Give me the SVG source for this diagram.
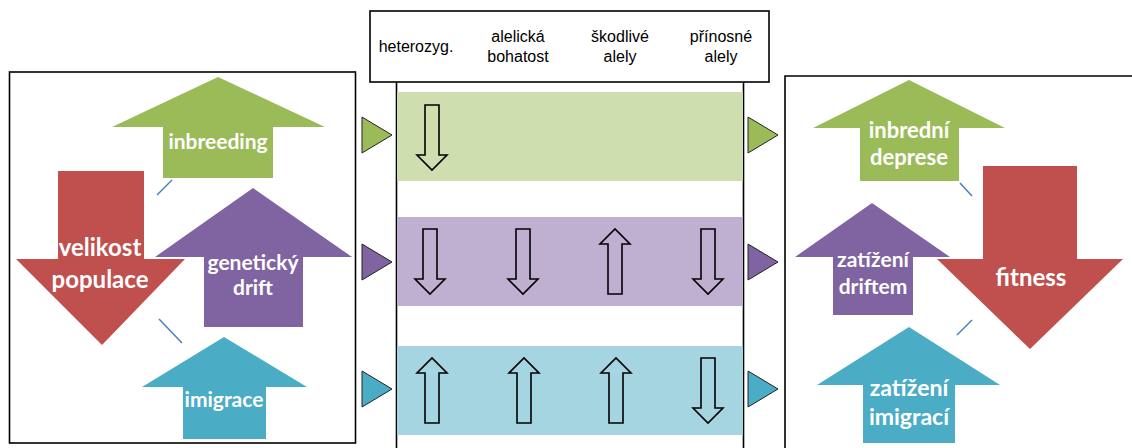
<svg xmlns="http://www.w3.org/2000/svg" width="1132" height="448" viewBox="0 0 1132 448">
<style>
.frame{fill:#fff;stroke:#000;stroke-width:1.6}
.g{fill:#9bbb59}.r{fill:#c0504d}.p{fill:#8064a2}.b{fill:#4bacc6}
.lbl{font-family:Lato,"Liberation Sans",sans-serif;font-weight:bold;font-size:21px;fill:#fff;text-anchor:middle}
.hdr{font-family:"Liberation Sans",Arial,sans-serif;font-size:16px;fill:#000;text-anchor:middle}
.tri{stroke:#222;stroke-width:1}
.oa{fill:none;stroke:#000;stroke-width:1.6;stroke-linejoin:miter}
.link{stroke:#4a7ebb;stroke-width:1.5}
</style>
<defs>
<path id="dn" d="M-7,0 H7 V50 H15 L0,65 L-15,50 H-7 Z"/>
<path id="up" d="M-7,65 H7 V15 H15 L0,0 L-15,15 H-7 Z"/>
<path id="tri" d="M0,0 L30,18 L0,36 Z"/>
</defs>

<g id="left-panel">
<rect class="frame" x="9.5" y="72" width="346" height="371"/>
</g>

<g id="connectors">
<line class="link" x1="157" y1="195" x2="172" y2="180"/>
<line class="link" x1="159" y1="319" x2="182" y2="343"/>
<line class="link" x1="960" y1="183" x2="972" y2="196"/>
<line class="link" x1="957" y1="335" x2="972" y2="320"/>
</g>

<g id="inbreeding">
<path class="g" d="M218,77 L325,127 H273 V178 H163 V127 H112 Z"/>
<text class="lbl" x="218" y="149">inbreeding</text>
</g>
<g id="velikost-populace">
<path class="r" d="M58,171 H144 V259 H185 L102,345 L16,259 H58 Z"/>
<text class="lbl" x="100" y="256" style="font-size:24px">velikost</text>
<text class="lbl" x="100" y="288" style="font-size:24px">populace</text>
</g>
<g id="geneticky-drift">
<path class="p" d="M253,188 L352,257 H303 V327 H204 V257 H155 Z"/>
<text class="lbl" x="253" y="270">genetický</text>
<text class="lbl" x="253" y="295">drift</text>
</g>
<g id="imigrace">
<path class="b" d="M224,337 L307,387 H266 V439 H183 V387 H142 Z"/>
<text class="lbl" x="224" y="407">imigrace</text>
</g>

<g id="table">
<rect class="frame" x="370" y="11" width="399" height="71"/>
<line x1="396.5" y1="82" x2="396.5" y2="448" stroke="#000" stroke-width="1.6"/>
<line x1="743.5" y1="82" x2="743.5" y2="448" stroke="#000" stroke-width="1.6"/>
<rect x="397" y="92" width="346" height="89" fill="#cfdeae"/>
<rect x="397" y="217" width="346" height="89" fill="#bfb0d1"/>
<rect x="397" y="346" width="346" height="89" fill="#a6d5e2"/>
<text class="hdr" x="416" y="52">heterozyg.</text>
<text class="hdr" x="518" y="42">alelická</text>
<text class="hdr" x="518" y="62">bohatost</text>
<text class="hdr" x="620" y="42">škodlivé</text>
<text class="hdr" x="620" y="62">alely</text>
<text class="hdr" x="721" y="42">přínosné</text>
<text class="hdr" x="721" y="62">alely</text>
</g>

<g id="row-arrows">
<use href="#dn" class="oa" x="432" y="105"/>
<use href="#dn" class="oa" x="430" y="229"/>
<use href="#dn" class="oa" x="523" y="229"/>
<use href="#up" class="oa" x="615" y="229"/>
<use href="#dn" class="oa" x="708" y="229"/>
<use href="#up" class="oa" x="432" y="358"/>
<use href="#up" class="oa" x="524" y="358"/>
<use href="#up" class="oa" x="616" y="358"/>
<use href="#dn" class="oa" x="708" y="358"/>
</g>

<g id="pointers">
<use href="#tri" class="g tri" x="362" y="117"/>
<use href="#tri" class="p tri" x="362" y="244"/>
<use href="#tri" class="b tri" x="362" y="371"/>
<use href="#tri" class="g tri" x="748" y="117"/>
<use href="#tri" class="p tri" x="748" y="244"/>
<use href="#tri" class="b tri" x="748" y="371"/>
</g>

<g id="right-panel">
<path d="M785,448 V76 H1132" fill="none" stroke="#000" stroke-width="1.6"/>
</g>

<g id="inbredni-deprese">
<path class="g" d="M909,80 L1005,128 H959 V181 H860 V128 H813 Z"/>
<text class="lbl" x="909" y="138" style="font-size:22px">inbrední</text>
<text class="lbl" x="909" y="165" style="font-size:22px">deprese</text>
</g>
<g id="fitness">
<path class="r" d="M983,166 H1077 V259 H1123 L1030,349 L937,259 H983 Z"/>
<text class="lbl" x="1031" y="286" style="font-size:24px">fitness</text>
</g>
<g id="zatizeni-driftem">
<path class="p" d="M872,203 L950,257 H913 V315 H833 V257 H795 Z"/>
<text class="lbl" x="873" y="267">zatížení</text>
<text class="lbl" x="873" y="294">driftem</text>
</g>
<g id="zatizeni-imigraci">
<path class="b" d="M909,327 L1000,385 H955 V443 H863 V385 H817 Z"/>
<text class="lbl" x="909" y="396" style="font-size:23px">zatížení</text>
<text class="lbl" x="909" y="425" style="font-size:23px">imigrací</text>
</g>
</svg>
